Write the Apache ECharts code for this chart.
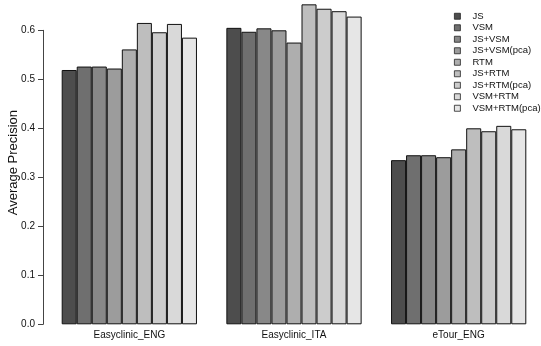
<!DOCTYPE html>
<html>
<head>
<meta charset="utf-8">
<script src="https://cdn.jsdelivr.net/npm/echarts@6/dist/echarts.min.js"></script>
<style>html,body{margin:0;padding:0;background:#fff;}#c{width:541px;height:346px;}</style>
</head>
<body>
<div id="c"></div>
<script>
const categories = ['Easyclinic_ENG', 'Easyclinic_ITA', 'eTour_ENG'];
const methods = ['JS', 'VSM', 'JS+VSM', 'JS+VSM(pca)', 'RTM', 'JS+RTM', 'JS+RTM(pca)', 'VSM+RTM', 'VSM+RTM(pca)'];
const JS          = [0.519, 0.605, 0.335];
const VSM         = [0.526, 0.597, 0.345];
const JS_VSM      = [0.526, 0.604, 0.345];
const JS_VSM_pca  = [0.522, 0.600, 0.341];
const RTM         = [0.561, 0.575, 0.357];
const JS_RTM      = [0.615, 0.653, 0.400];
const JS_RTM_pca  = [0.596, 0.644, 0.394];
const VSM_RTM     = [0.613, 0.639, 0.405];
const VSM_RTM_pca = [0.585, 0.628, 0.398];
const seriesValues = [JS, VSM, JS_VSM, JS_VSM_pca, RTM, JS_RTM, JS_RTM_pca, VSM_RTM, VSM_RTM_pca];
const colors = ['#4D4D4D', '#6F6F6F', '#888888', '#9C9C9C', '#AEAEAE', '#BEBEBE', '#CCCCCC', '#D9D9D9', '#E6E6E6'];
const yTicks = { min: 0, max: 0.6, interval: 0.1 };

const font = 'Liberation Sans, Arial, Helvetica, sans-serif';
const chart = echarts.init(document.getElementById('c'), null, { renderer: 'canvas' });
chart.setOption({
  animation: false,
  backgroundColor: '#fff',
  textStyle: { fontFamily: font },
  grid: { left: 47, top: 30.3, height: 294, width: 496.5, containLabel: false },
  legend: {
    orient: 'vertical',
    left: 454,
    top: 10.5,
    icon: 'rect',
    itemWidth: 6,
    itemHeight: 6,
    itemGap: 0,
    padding: 0,
    selectedMode: false,
    itemStyle: { borderColor: '#222', borderWidth: 0.8 },
    textStyle: { fontFamily: font, fontSize: 9.5, color: '#111', lineHeight: 11.5, padding: [0, 0, 0, 7] },
    data: methods
  },
  graphic: [{
    type: 'text',
    left: 7,
    top: 110,
    rotation: Math.PI / 2,
    style: { text: 'Average Precision', fontFamily: font, fontSize: 13, fill: '#111' }
  }],
  xAxis: {
    type: 'category',
    data: categories,
    axisLine: { show: false },
    axisTick: { show: false },
    axisLabel: { fontFamily: font, fontSize: 10, color: '#111', margin: 6 }
  },
  yAxis: {
    type: 'value',
    min: yTicks.min,
    max: yTicks.max,
    interval: yTicks.interval,
    offset: 4,
    splitLine: { show: false },
    axisLine: { show: true, lineStyle: { color: '#444', width: 1 } },
    axisTick: { show: true, length: 5, lineStyle: { color: '#444' } },
    axisLabel: { fontFamily: font, fontSize: 10, color: '#111', margin: 8, formatter: v => v.toFixed(1) }
  },
  series: methods.map((m, i) => ({
    name: m,
    type: 'bar',
    data: seriesValues[i],
    barWidth: 15.03,
    barGap: 0,
    clip: false,
    itemStyle: { color: colors[i], borderColor: '#111', borderWidth: 1 }
  }))
});
</script>
</body>
</html>
